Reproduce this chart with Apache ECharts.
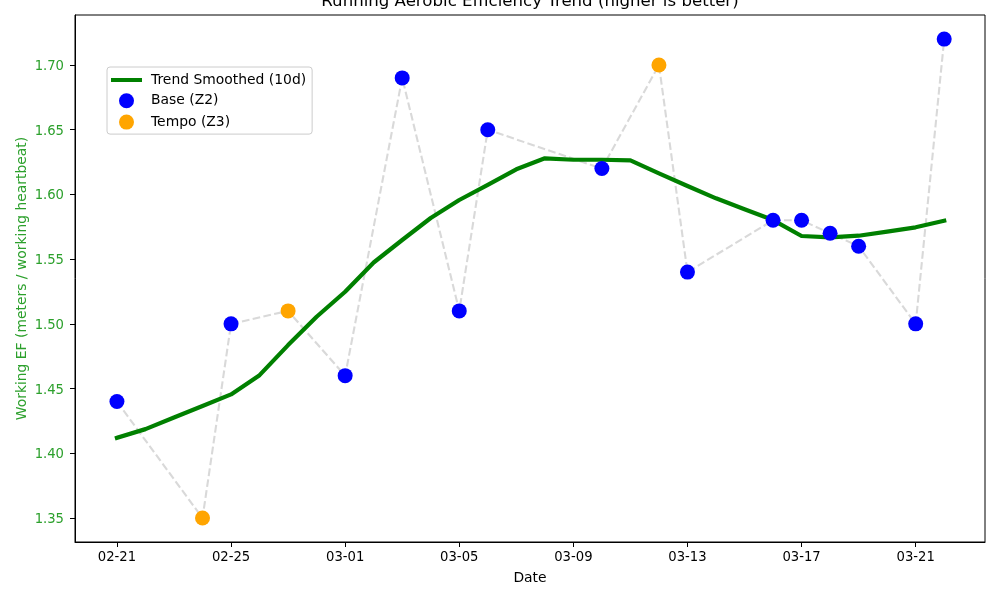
<!DOCTYPE html>
<html>
<head>
<meta charset="utf-8">
<script src="https://cdn.jsdelivr.net/npm/echarts@6/dist/echarts.min.js"></script>
<style>
html,body{margin:0;padding:0;background:#fff;}
#main{width:1000px;height:600px;}
</style>
</head>
<body>
<div id="main"></div>
<script>
'use strict';
var sessionDates = ['2025-02-21','2025-02-24','2025-02-25','2025-02-27','2025-03-01','2025-03-03','2025-03-05','2025-03-06','2025-03-10','2025-03-12','2025-03-13','2025-03-16','2025-03-17','2025-03-18','2025-03-19','2025-03-21','2025-03-22'];
var sessionEF = [1.44,1.35,1.50,1.51,1.46,1.69,1.51,1.65,1.62,1.70,1.54,1.58,1.58,1.57,1.56,1.50,1.72];
var sessionZone = ['Z2','Z3','Z2','Z3','Z2','Z2','Z2','Z2','Z2','Z3','Z2','Z2','Z2','Z2','Z2','Z2','Z2'];
var trendDates = ['2025-02-21','2025-02-22','2025-02-23','2025-02-24','2025-02-25','2025-02-26','2025-02-27','2025-02-28','2025-03-01','2025-03-02','2025-03-03','2025-03-04','2025-03-05','2025-03-06','2025-03-07','2025-03-08','2025-03-09','2025-03-10','2025-03-11','2025-03-12','2025-03-13','2025-03-14','2025-03-15','2025-03-16','2025-03-17','2025-03-18','2025-03-19','2025-03-20','2025-03-21','2025-03-22'];
var trendEF = [1.412,1.4187,1.4277,1.4365,1.4455,1.4604,1.4836,1.5055,1.5248,1.5474,1.5648,1.5818,1.5957,1.6073,1.6194,1.6279,1.6268,1.6268,1.6263,1.6163,1.6065,1.597,1.5885,1.5802,1.5679,1.5668,1.5681,1.5712,1.5746,1.5797];
var xTicks = ['2025-02-21','2025-02-25','2025-03-01','2025-03-05','2025-03-09','2025-03-13','2025-03-17','2025-03-21'];
var yTicks = [1.35,1.40,1.45,1.50,1.55,1.60,1.65,1.70];

var FONT = '"DejaVu Sans"';
// x axis runs in whole days counted from the first session
function dayNo(s){ return trendDates.indexOf(s); }
function pairs(dates, vals){ return dates.map(function(d,i){ return [dayNo(d), vals[i]]; }); }
function zonePoints(zone){
	return pairs(sessionDates, sessionEF).filter(function(p,i){ return sessionZone[i] === zone; });
}
var xTickVals = xTicks.map(dayNo);

var chart = echarts.init(document.getElementById('main'));
chart.setOption({
	animation:false,
	backgroundColor:'#fff',
	textStyle:{fontFamily:FONT},
	title:{
		text:'Running Aerobic Efficiency Trend (higher is better)',
		left:525, top:-12, textAlign:'center',
		textStyle:{fontFamily:FONT,fontSize:16.6,fontWeight:'normal',color:'#000'}
	},
	grid:{left:75,right:15,top:15,bottom:58,show:true,borderColor:'#000',borderWidth:1,backgroundColor:'transparent'},
	legend:{
		data:[
			{name:'Trend Smoothed (10d)',icon:'path://M0 0H31V4H0Z'},
			{name:'Base (Z2)',icon:'circle'},
			{name:'Tempo (Z3)',icon:'circle'}
		],
		orient:'vertical', left:107, top:67,
		padding:[6,6,4.5,4], itemWidth:31, itemHeight:15, itemGap:6.3,
		backgroundColor:'#fff', borderColor:'#ccc', borderWidth:1, borderRadius:3,
		textStyle:{fontFamily:FONT,fontSize:13.9,color:'#000',padding:[0,0,0,4]}
	},
	xAxis:{
		type:'value',
		min:-1.47,
		max:30.43,
		name:'Date', nameLocation:'middle', nameGap:29,
		nameTextStyle:{fontFamily:FONT,fontSize:13.9,color:'#000'},
		splitLine:{show:false},
		axisLine:{show:true,onZero:false,lineStyle:{color:'#000',width:1}},
		axisTick:{show:true,length:5,customValues:xTickVals,lineStyle:{color:'#000',width:1}},
		axisLabel:{
			customValues:xTickVals, margin:9, fontFamily:FONT, fontSize:13.2, color:'#000',
			formatter:function(v){ return trendDates[v].slice(5); }
		}
	},
	yAxis:{
		type:'value',
		min:1.3315, max:1.7386,
		name:'Working EF (meters / working heartbeat)', nameLocation:'middle', nameGap:46,
		nameMoveOverlap:false,
		nameTextStyle:{fontFamily:FONT,fontSize:13.9,color:'#2ca02c'},
		splitLine:{show:false},
		axisLine:{show:true,onZero:false,lineStyle:{color:'#000',width:1}},
		axisTick:{show:true,length:5,customValues:yTicks,lineStyle:{color:'#000',width:1}},
		axisLabel:{
			customValues:yTicks, margin:11, fontFamily:FONT, fontSize:13.2, color:'#2ca02c',
			rich:{v:{fontFamily:FONT,fontSize:13.2,color:'#2ca02c',padding:[3,0,0,0]}},
			formatter:function(v){ return '{v|' + v.toFixed(2) + '}'; }
		}
	},
	series:[
		{
			name:'Sessions', type:'line', z:1,
			data:pairs(sessionDates, sessionEF),
			showSymbol:false, symbol:'none', silent:true,
			lineStyle:{color:'#d9d9d9',width:2.1,type:[7.7,3.3]}
		},
		{
			name:'Trend Smoothed (10d)', type:'line', z:2,
			data:pairs(trendDates, trendEF),
			showSymbol:false, symbol:'none',
			lineStyle:{color:'#008000',width:4.2,join:'round',cap:'square'},
			itemStyle:{color:'#008000'}
		},
		{
			name:'Base (Z2)', type:'scatter', z:3,
			data:zonePoints('Z2'), symbolSize:15,
			itemStyle:{color:'#0000ff',opacity:1}
		},
		{
			name:'Tempo (Z3)', type:'scatter', z:3,
			data:zonePoints('Z3'), symbolSize:15,
			itemStyle:{color:'#ffa500',opacity:1}
		}
	]
});
</script>
</body>
</html>
